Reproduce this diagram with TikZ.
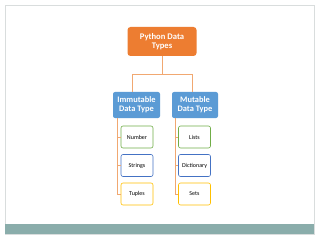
\documentclass[tikz,border=0pt]{standalone}
\usepackage{fontspec}
\setmainfont{Carlito}
\begin{document}
\begin{tikzpicture}[x=1pt,y=-1pt,
  top/.style={draw=none,fill=orangeC,rounded corners=3pt,text=white,font=\bfseries\fontsize{8.6}{9.6}\selectfont,align=center,inner sep=0pt},
  mid/.style={draw=none,fill=blueC,rounded corners=2pt,text=white,font=\bfseries\fontsize{8.4}{9.4}\selectfont,align=center,inner sep=0pt},
  leaf/.style={fill=white,line width=0.6pt,rounded corners=2pt,text=black,font=\fontsize{6}{7}\selectfont,inner sep=0pt},
  conn/.style={draw=orangeL,line width=0.8pt}]
\definecolor{orangeC}{HTML}{ED7D31}
\definecolor{orangeL}{HTML}{F1A871}
\definecolor{blueC}{HTML}{5B9BD5}
\definecolor{greenC}{HTML}{70AD47}
\definecolor{blueB}{HTML}{4472C4}
\definecolor{yellowC}{HTML}{FFC000}
\definecolor{barC}{HTML}{8AADAB}
\definecolor{frameC}{HTML}{D9DDDD}
\useasboundingbox (0,0) rectangle (320,240);
\fill[white] (0,0) rectangle (320,240);
\draw[frameC,line width=0.7pt] (5,5) rectangle (314,234);
\fill[barC] (5,224) rectangle (314,234);
\node[top,minimum width=69,minimum height=29] (root) at (162,41.5) {Python Data\\Types};
\node[mid,minimum width=47,minimum height=26] (imm) at (136.5,105) {Immutable\\Data Type};
\node[mid,minimum width=46,minimum height=26] (mut) at (195,105) {Mutable\\Data Type};
\node[leaf,draw=greenC,minimum width=32,minimum height=22] (num) at (137,137) {Number};
\node[leaf,draw=blueB,minimum width=32,minimum height=22] (str) at (137,165.5) {Strings};
\node[leaf,draw=yellowC,minimum width=32,minimum height=22] (tup) at (137,194) {Tuples};
\node[leaf,draw=greenC,minimum width=32,minimum height=22] (lis) at (194.5,137) {Lists};
\node[leaf,draw=blueB,minimum width=32,minimum height=22] (dic) at (194.5,165.5) {Dictionary};
\node[leaf,draw=yellowC,minimum width=32,minimum height=22] (set) at (194.5,194) {Sets};
\coordinate (hy) at (0,74);
\draw[conn] (root.south) -- (root.south |- hy) -- ([xshift=-4.5]imm.north |- hy) -- ([xshift=-4.5]imm.north);
\draw[conn] (root.south |- hy) -- ([xshift=-3]mut.north |- hy) -- ([xshift=-3]mut.north);
\draw[conn] ([xshift=-19.5]imm.south) |- (tup.west);
\draw[conn] ([xshift=-19.5]imm.south |- num.west) -- (num.west);
\draw[conn] ([xshift=-19.5]imm.south |- str.west) -- (str.west);
\draw[conn] ([xshift=-20]mut.south) |- (set.west);
\draw[conn] ([xshift=-20]mut.south |- lis.west) -- (lis.west);
\draw[conn] ([xshift=-20]mut.south |- dic.west) -- (dic.west);
\end{tikzpicture}
\end{document}
